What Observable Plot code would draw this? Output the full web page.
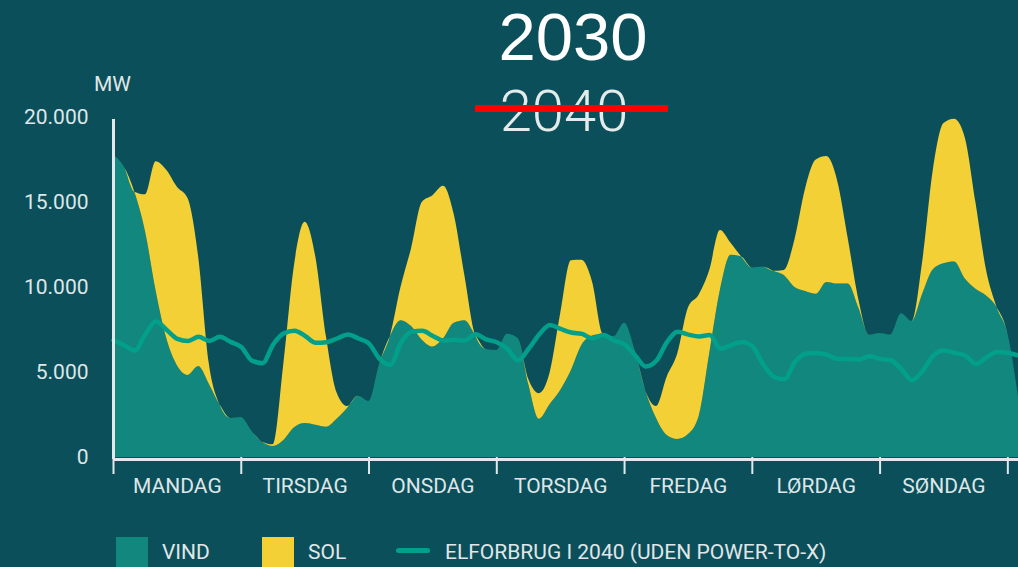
<!DOCTYPE html>
<html>
<head>
<meta charset="utf-8">
<script src="https://cdn.jsdelivr.net/npm/d3@7"></script>
<script src="https://cdn.jsdelivr.net/npm/@observablehq/plot@0.6"></script>
<style>
  html, body { margin: 0; padding: 0; background: #0b4f5b; }
  #wrap { position: relative; width: 1018px; height: 567px; background: #0b4f5b; overflow: hidden; font-family: Roboto, "Noto Sans", sans-serif; }
  #chart { position: absolute; left: 0; top: 0; }
  .abs { position: absolute; line-height: 1; white-space: nowrap; }
  #title { left: 0; width: 1146px; text-align: center; top: 3px; font-family: "Liberation Sans", Arial, sans-serif; font-size: 67px; color: #ffffff; }
  #old { left: 0; width: 1128px; text-align: center; top: 82px; font-size: 58px; font-weight: 300; color: #e4ebeb; }
  #strike { position: absolute; left: 475px; top: 105px; width: 193px; height: 7px; background: #ff0000; }
  #unit { left: 94px; top: 74px; font-size: 21px; color: #e0e7e8; }
  .leg { font-size: 21px; color: #e0e7e8; top: 542px; }
  .sw { position: absolute; top: 537px; width: 32px; height: 40px; }
  .lsw { position: absolute; top: 548px; left: 396px; width: 34px; height: 5px; border-radius: 3px; background: #02a08b; }
</style>
</head>
<body>
<div id="wrap">
  <div id="chart"></div>
  <div id="title" class="abs"></div>
  <div id="old" class="abs"></div>
  <div id="strike"></div>
  <div id="unit" class="abs"></div>
  <div id="legend"></div>
</div>
<script>
// ---- data (MW, every 2 hours of one week) ----
const hours = [0,2,4,6,8,10,12,14,16,18,20,22,24,26,28,30,32,34,36,38,40,42,44,46,48,50,52,54,56,58,60,62,64,66,68,70,72,74,76,78,80,82,84,86,88,90,92,94,96,98,100,102,104,106,108,110,112,114,116,118,120,122,124,126,128,130,132,134,136,138,140,142,144,146,148,150,152,154,156,158,160,162,164,166,168,170];
const wind = [17800,17100,15600,13300,9800,7000,5400,4830,5350,4300,3100,2300,2350,1550,900,650,1000,1750,2000,1900,1780,2250,2900,3600,3300,5500,7100,8050,7700,6900,6500,6980,7900,8050,7200,6350,6300,7250,7000,4300,2250,3100,3940,5100,6600,7150,7250,7100,7900,6300,3900,2300,1300,1060,1350,2400,6100,9820,11900,11800,11150,11200,10950,10700,10000,9770,9600,10300,10200,10200,8800,7200,7300,7200,8450,8000,9600,11050,11400,11500,10500,9900,9500,8800,7300,3550];
const solar = [0,0,0,2150,7600,9900,10500,10400,6430,1200,0,0,0,0,0,100,4500,9550,11840,9900,5320,1550,100,0,0,0,0,1950,4600,8100,8900,8970,6400,2650,0,0,0,0,0,300,1500,1850,4510,6480,5000,3150,0,0,0,0,0,700,3425,5040,7450,7150,4900,3530,700,0,0,0,0,300,2800,6030,7900,7400,6100,2700,500,0,0,0,0,0,1900,5850,8250,8400,8300,5100,1500,0,0,0];
const demand = [6900,6600,6300,7250,8000,7500,6980,6850,7100,6850,7100,6800,6500,5700,5550,6650,7300,7450,7150,6750,6780,7000,7230,7000,6700,5800,5450,6750,7400,7450,7150,6880,6920,6880,7250,6950,6780,6380,5700,6400,7250,7800,7560,7350,7270,7000,7200,6880,6650,6000,5350,5700,6800,7400,7230,7120,7200,6400,6600,6800,6550,5500,4750,4600,5600,6100,6150,6050,5800,5800,5750,5950,5800,5720,5200,4550,5100,6000,6300,6150,6000,5500,5900,6200,6150,6000];

const seriesNames = ["VIND", "SOL"];
const lineName = "ELFORBRUG I 2040 (UDEN POWER-TO-X)";
const dayNames = ["MANDAG","TIRSDAG","ONSDAG","TORSDAG","FREDAG","LØRDAG","SØNDAG"];
const dayTicks = [0,24,48,72,96,120,144,168];
const dayCenters = [12,36,60,84,108,132,156];
const yTicks = [0,5000,10000,15000,20000];
const yTickLabels = ["0","5.000","10.000","15.000","20.000"];
const titleText = "2030";
const oldTitleText = "2040";
const unitText = "MW";

// ---- styles ----
const windColor = "#12877d";
const solarColor = "#f3d035";
const lineColor = "#02a08b";
const axisColor = "#e3e9ea";
const labelColor = "#dfe6e7";

const stacked = [];
hours.forEach((h, i) => {
  stacked.push({h, type: seriesNames[0], v: wind[i]});
  stacked.push({h, type: seriesNames[1], v: solar[i]});
});
const demandData = hours.map((h, i) => ({h, v: demand[i]}));

const chart = Plot.plot({
  width: 1018,
  height: 567,
  marginLeft: 113,
  marginRight: 0,
  marginTop: 117,
  marginBottom: 110,
  style: {background: "transparent", color: labelColor, fontFamily: "Roboto, 'Noto Sans', sans-serif", fontSize: "21px", overflow: "visible"},
  x: {domain: [0, 170], axis: null},
  y: {domain: [0, 20000], axis: null},
  color: {domain: seriesNames, range: [windColor, solarColor]},
  marks: [
    Plot.areaY(stacked, {x: "h", y: "v", fill: "type", curve: "monotone-x"}),
    Plot.lineY(demandData, {x: "h", y: "v", stroke: lineColor, strokeWidth: 4.5, curve: "monotone-x", strokeLinejoin: "round"}),
    Plot.ruleX([0], {y1: 0, y2: 20000, dy: 2, stroke: axisColor, strokeWidth: 3}),
    Plot.ruleY([0], {dy: 2, stroke: axisColor, strokeWidth: 3}),
    Plot.axisX({ticks: dayTicks, tickFormat: () => "", tickSize: 17, stroke: axisColor, strokeWidth: 2, label: null}),
    Plot.axisX({ticks: dayCenters, tickFormat: d => dayNames[dayCenters.indexOf(d)], tickSize: 0, tickPadding: 21, fontSize: 21, fill: labelColor, label: null}),
    Plot.axisY({ticks: yTicks, tickFormat: d => yTickLabels[yTicks.indexOf(d)], tickSize: 0, tickPadding: 25, fontSize: 21, fill: labelColor, label: null})
  ]
});
document.getElementById("chart").appendChild(chart);

document.getElementById("title").textContent = titleText;
document.getElementById("old").textContent = oldTitleText;
document.getElementById("unit").textContent = unitText;

// legend
const legend = document.getElementById("legend");
const legItems = [
  {kind: "box", color: windColor, label: seriesNames[0], sx: 116, tx: 162},
  {kind: "box", color: solarColor, label: seriesNames[1], sx: 262, tx: 308},
  {kind: "line", color: lineColor, label: lineName, sx: 396, tx: 445}
];
legItems.forEach(it => {
  const s = document.createElement("div");
  if (it.kind === "box") { s.className = "sw"; s.style.left = it.sx + "px"; s.style.background = it.color; }
  else { s.className = "lsw"; s.style.background = it.color; }
  legend.appendChild(s);
  const t = document.createElement("div");
  t.className = "abs leg";
  t.style.left = it.tx + "px";
  t.textContent = it.label;
  legend.appendChild(t);
});
</script>
</body>
</html>
